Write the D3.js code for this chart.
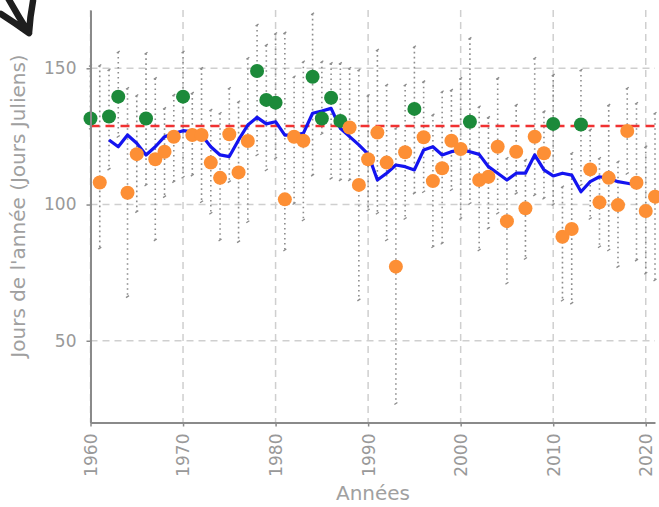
<!DOCTYPE html>
<html>
<head>
<meta charset="utf-8">
<script src="https://cdn.jsdelivr.net/npm/d3@7"></script>
<style>
  body { margin: 0; background: #fff; }
  svg { display: block; font-family: "DejaVu Sans", sans-serif; }
</style>
</head>
<body>
<div id="chart"></div>
<script>
// years shown on the x axis
const years = d3.range(1960, 2022);

// day of year for each year (dots)
const values = [
  131.6, 108.1, 132.3, 139.6, 104.3, 118.5, 131.6, 116.6, 119.4, 124.9,
  139.6, 125.5, 125.5, 115.4, 109.8, 125.8, 111.8, 123.3, 149.0, 138.4,
  137.4, 101.9, 124.9, 123.4, 146.9, 131.6, 139.2, 130.7, 128.3, 107.2,
  116.6, 126.4, 115.4, 77.2, 119.2, 135.1, 124.7, 108.6, 113.3, 123.4,
  120.4, 130.4, 109.0, 110.2, 121.2, 93.9, 119.4, 98.6, 124.9, 118.8,
  129.6, 88.2, 91.0, 129.4, 112.9, 100.8, 109.8, 99.8, 127.0, 108.0,
  97.6, 102.9
];

// range of each year (dotted vertical lines)
const maxValues = [
  151, 151, 149.5, 156, 142.7, 140, 155.5, 146.3, 135.3, 140.2,
  156, 140.9, 150, 134.7, 133.5, 142.7, 137.7, 153.7, 165.9, 158.5,
  162.8, 163, 146.9, 152.4, 170, 152.4, 151.8, 151.8, 150, 149.4,
  140, 156.7, 143.9, 128, 143.9, 157.9, 145.1, 132.9, 141.4, 142,
  146.3, 161, 135.9, 132, 146.3, 117, 136.5, 116.3, 153.7, 134.1,
  147.5, 106.5, 118.8, 149.4, 127.4, 117, 136.5, 115.7, 142.7, 137.2,
  121.2, 133.5
];
const minValues = [
  128, 84, 113, 125, 66.2, 97.4, 107.2, 87, 102.9, 108.4,
  110, 110.8, 101, 96.8, 87, 108.4, 86.4, 93.7, 118.2, 112.7,
  117, 83.3, 100.4, 94.3, 110.8, 126, 109.6, 109, 109, 65,
  98, 96.8, 87, 27, 94.9, 104.2, 104.7, 84.5, 85.8, 105.4,
  94.9, 100.4, 83.3, 91.3, 96.8, 71.1, 104.1, 80.2, 103.5, 102.3,
  100, 64.9, 63.8, 107.2, 94.9, 84.5, 83.3, 77.2, 111.4, 79.6,
  74.8, 72.3
];

// moving average (blue line), 1962 - 2019
const avgYears = d3.range(1962, 2020);
const avgValues = [
  123.7, 121.2, 125.5, 122.5, 118.2, 121.2, 124.9, 126.1, 127.1, 126.7,
  125.5, 121.2, 118.2, 117.6, 123.7, 129.2, 132.0, 129.6, 130.4, 125.5,
  125.5, 126.1, 133.5, 134.3, 135.3, 128.0, 124.9, 121.9, 118.5, 109.0,
  111.5, 114.5, 113.9, 112.7, 120.0, 121.2, 118.2, 119.4, 120.0, 119.4,
  118.4, 113.9, 111.5, 109.0, 111.5, 111.5, 118.2, 112.7, 110.5, 111.5,
  110.8, 104.7, 108.4, 110.2, 109.6, 108.4, 107.8, 107.2
];

const threshold = 128.8;
const xTicks = [1960, 1970, 1980, 1990, 2000, 2010, 2020];
const yTicks = [50, 100, 150];

const width = 659;
const height = 507;

const data = years.map((yr, i) => ({
  year: yr, value: values[i], min: minValues[i], max: maxValues[i]
}));

const svg = d3.select("#chart")
  .append("svg")
  .attr("width", width)
  .attr("height", height);

const x = d3.scaleLinear().domain([1960, 2021]).range([90.5, 655]);
const y = d3.scaleLinear().domain([20, 171.4]).range([422.5, 10]);

// grid
svg.append("g")
  .selectAll("line")
  .data(xTicks)
  .enter()
  .append("line")
  .attr("x1", d => x(d)).attr("x2", d => x(d))
  .attr("y1", y(171.4)).attr("y2", y(20))
  .attr("stroke", "#cfcfcf")
  .attr("stroke-width", 1.5)
  .attr("stroke-dasharray", "7,5");

svg.append("g")
  .selectAll("line")
  .data(yTicks)
  .enter()
  .append("line")
  .attr("x1", x(1960)).attr("x2", x(2021))
  .attr("y1", d => y(d)).attr("y2", d => y(d))
  .attr("stroke", "#cfcfcf")
  .attr("stroke-width", 1.5)
  .attr("stroke-dasharray", "7,5");

// dotted ranges
const ranges = svg.append("g");
ranges.selectAll(".rng")
  .data(data)
  .enter()
  .append("line")
  .attr("class", "rng")
  .attr("x1", d => x(d.year)).attr("x2", d => x(d.year))
  .attr("y1", d => y(d.max)).attr("y2", d => y(d.min))
  .attr("stroke", "#8c8c8c")
  .attr("stroke-width", 1.6)
  .attr("stroke-dasharray", "1.6,3.4");

ranges.selectAll(".cap")
  .data(data.flatMap(d => [d.max, d.min].map(v => ({ year: d.year, v }))))
  .enter()
  .append("line")
  .attr("class", "cap")
  .attr("x1", d => x(d.year) - 1.5).attr("x2", d => x(d.year) + 1.5)
  .attr("y1", d => y(d.v) + 1).attr("y2", d => y(d.v) - 1)
  .attr("stroke", "#8c8c8c")
  .attr("stroke-width", 1.3);

// threshold
svg.append("line")
  .attr("x1", x(1960)).attr("x2", width)
  .attr("y1", y(threshold)).attr("y2", y(threshold))
  .attr("stroke", "#f03232")
  .attr("stroke-width", 2.5)
  .attr("stroke-dasharray", "9,6");

// moving average
const line = d3.line()
  .x((d, i) => x(avgYears[i]))
  .y(d => y(d));

svg.append("path")
  .datum(avgValues)
  .attr("d", line)
  .attr("fill", "none")
  .attr("stroke", "#1414f0")
  .attr("stroke-width", 3.2)
  .attr("stroke-linejoin", "round");

// dots
svg.append("g")
  .selectAll("circle")
  .data(data)
  .enter()
  .append("circle")
  .attr("cx", d => x(d.year))
  .attr("cy", d => y(d.value))
  .attr("r", 7)
  .attr("fill", d => d.value > threshold ? "#1c8a3a" : "#fd8f35");

// axes
const yAxis = svg.append("g")
  .attr("transform", "translate(90.5,0)")
  .call(d3.axisLeft(y).tickValues(yTicks).tickSize(4).tickSizeOuter(0).tickPadding(10));

const xAxis = svg.append("g")
  .attr("transform", "translate(0,422.5)")
  .call(d3.axisBottom(x).tickValues(xTicks).tickFormat(d3.format("d")).tickSize(4).tickSizeOuter(0));

[yAxis, xAxis].forEach(ax => {
  ax.select(".domain").attr("stroke", "#8a8a8a").attr("stroke-width", 2);
  ax.selectAll(".tick line").attr("stroke", "#8a8a8a").attr("stroke-width", 1.5);
  ax.selectAll("text")
    .attr("fill", "#999")
    .style("font-size", "17px")
    .style("font-family", "DejaVu Sans, sans-serif");
});

xAxis.selectAll("text")
  .attr("transform", "rotate(-90)")
  .attr("x", -11)
  .attr("y", 0)
  .attr("dy", "0.35em")
  .style("text-anchor", "end");

// axis labels
svg.append("text")
  .attr("transform", "rotate(-90)")
  .attr("x", -206)
  .attr("y", 25)
  .attr("text-anchor", "middle")
  .attr("fill", "#a0a0a0")
  .attr("font-size", "20px")
  .text("Jours de l'année (Jours Juliens)");

svg.append("text")
  .attr("x", 373)
  .attr("y", 500)
  .attr("text-anchor", "middle")
  .attr("fill", "#a0a0a0")
  .attr("font-size", "20px")
  .text("Années");

// hand-drawn arrow in the corner
svg.append("path")
  .attr("d", "M1,14 Q15,23 29,33 Q30,17 33,1 M29,33 Q18,16 8,-2")
  .attr("fill", "none")
  .attr("stroke", "#1e1e1e")
  .attr("stroke-width", 6.5)
  .attr("stroke-linecap", "round")
  .attr("stroke-linejoin", "round");
</script>
</body>
</html>
